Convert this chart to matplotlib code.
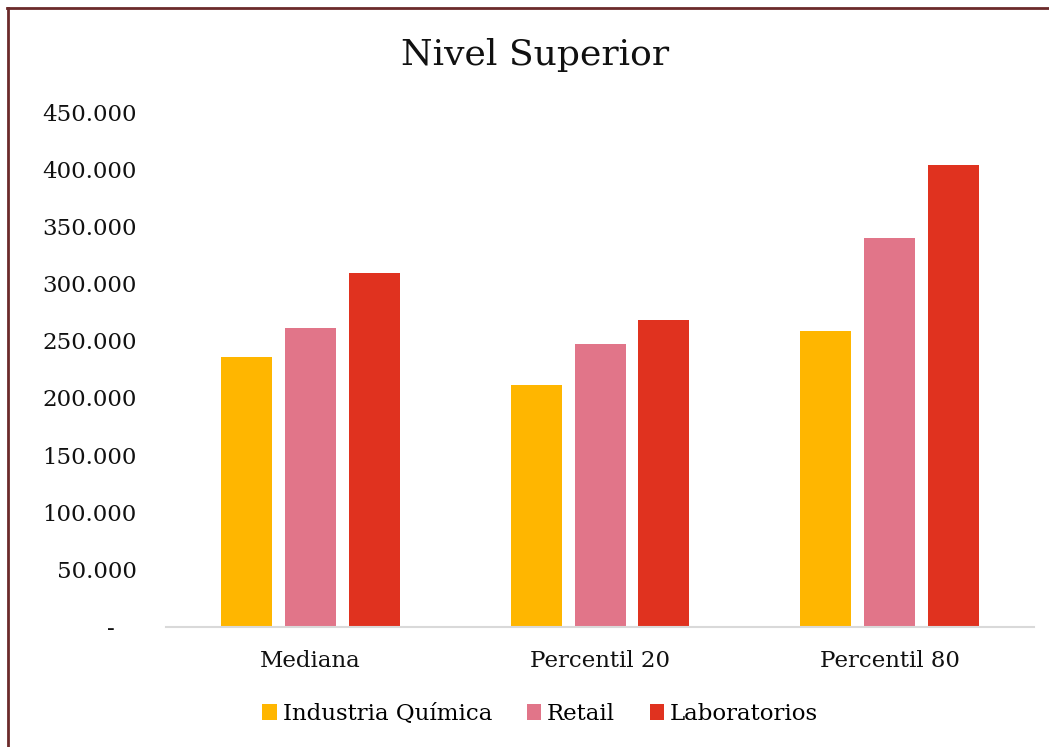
import matplotlib
matplotlib.use("Agg")
import matplotlib.pyplot as plt
from matplotlib.lines import Line2D
import numpy as np

categories = ["Mediana", "Percentil 20", "Percentil 80"]
series_names = ["Industria Química", "Retail", "Laboratorios"]
industria = [236000, 211500, 258700]
retail = [261400, 247400, 340000]
laboratorios = [309400, 268400, 403800]
yticks = [0, 50000, 100000, 150000, 200000, 250000, 300000, 350000, 400000, 450000]

colors = ["#FFB600", "#E17589", "#E0321F"]

plt.rcParams["font.family"] = ["DejaVu Serif"]


def fmt(v):
    # accounting style: zero shown as a dash
    if v == 0:
        return "-   "
    return f"{v:,.0f}".replace(",", ".")


fig = plt.figure(figsize=(10.49, 7.47), dpi=100)
ax = fig.add_axes([0.158, 0.161, 0.828, 0.689])

x = np.arange(len(categories))
width = 0.176
step = 0.22
for i, (vals, name) in enumerate(zip([industria, retail, laboratorios], series_names)):
    ax.bar(x + (i - 1) * step, vals, width, color=colors[i], label=name)

ax.set_xlim(-0.5, 2.5)
ax.set_ylim(0, 450000)
ax.set_yticks(yticks)
ax.set_yticklabels([fmt(v) for v in yticks])
ax.set_xticks(x)
ax.set_xticklabels(categories)
ax.tick_params(axis="both", length=0, labelsize=16.5, colors="#111111")
ax.tick_params(axis="y", pad=21)
ax.tick_params(axis="x", pad=17)
for s in ["top", "right", "left"]:
    ax.spines[s].set_visible(False)
ax.spines["bottom"].set_color("#d9d9d9")
ax.spines["bottom"].set_linewidth(1.5)

fig.text(0.51, 0.927, "Nivel Superior", ha="center", va="center", fontsize=26, color="#111111")

fig.legend(loc="center", bbox_to_anchor=(0.515, 0.044), ncol=3, frameon=False,
           fontsize=16.5, handlelength=0.65, handleheight=0.65, handletextpad=0.25,
           columnspacing=1.5)

# frame around the chart (left and top visible)
fig.add_artist(Line2D([7.5 / 1049, 7.5 / 1049], [0, 1 - 8 / 747], color="#6b2a2a", lw=2.0))
fig.add_artist(Line2D([7 / 1049, 1], [1 - 8 / 747, 1 - 8 / 747], color="#6b2a2a", lw=2.0))

fig.savefig("out.png", dpi=100)
